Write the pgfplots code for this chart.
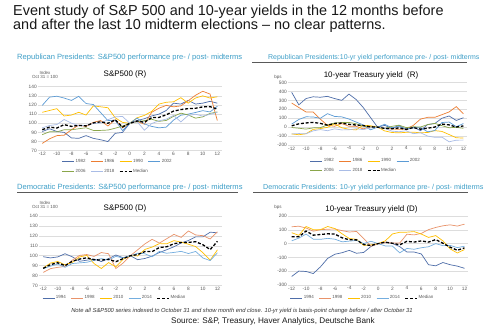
\documentclass[border=0pt]{standalone}
\usepackage{fontspec}
\setmainfont{Liberation Sans}
\usepackage{pgfplots}
\usepackage{pgfplotstable}
\pgfplotsset{compat=1.18}

\definecolor{c82}{HTML}{4F6EA9}
\definecolor{c86}{HTML}{ED7D31}
\definecolor{c90}{HTML}{FFC000}
\definecolor{c02}{HTML}{5B9BD5}
\definecolor{c06}{HTML}{8AA64A}
\definecolor{c18}{HTML}{A9BCE6}
\definecolor{c94}{HTML}{4F6EA9}
\definecolor{c98}{HTML}{E9936A}
\definecolor{c10}{HTML}{FFC000}
\definecolor{c14}{HTML}{74AEDF}
\definecolor{gridc}{HTML}{DDDDDD}
\definecolor{tickc}{HTML}{595959}
\definecolor{titlec}{HTML}{3E9FC8}
\definecolor{linec}{HTML}{595959}

\pgfplotstableread{
x a b c d e f m
-12 91 78 112 119.6 87.6 95 93
-11 94 83 114 128.6 90.7 97.6 95.8
-10 91 86.5 116 129.6 90.6 98.6 94.8
-9 90 87 108 127.6 92.9 104.1 98.5
-8 84 93 109 125 92.9 100.1 96.6
-7 83.5 98 112 129.5 94 97.4 97.7
-6 86.5 96.5 109 121.6 95.1 97.7 97.1
-5 83.5 101 119 120.5 92.2 99.8 100.4
-4 82 103 118 111.7 92.2 100.2 101.6
-3 80 97 117 102.9 92.6 103.9 100
-2 89 104 106 103.4 94.6 107 103.7
-1 90 95 101 92 96.9 107.5 96
0 100 100 100 100 100 100 100
1 103 102 106 105.7 101.6 101.8 102.5
2 105 99 108.6 99.3 102.9 92.4 101.1
3 108 112 113 96.6 104.4 99.7 106.2
4 110 116.5 121 95 102.1 102.7 106.4
5 114 119.6 123 95.8 103.1 104.5 109.3
6 122 118 123.5 103.5 107.6 108.6 113.3
7 121 119 128 108.8 111.1 101.5 115
8 125 124.6 122 110 109.1 108.5 116
9 121 130.6 127.6 111.8 105.6 109.9 116.4
10 122 135 130 113.8 107 107.9 117.9
11 124 132 127.6 112.4 110.8 109.8 118.2
12 122 103 129 118.6 112.4 112 115.5
}\tSR

\pgfplotstableread{
x a b c d e f m
-12 390 270 -76 34 -4 -76 15
-11 250 220 -85 86 -12 -72 37
-10 320 170 -74 116 -22 -74 47
-9 340 170 -25 114 -8 -42 53
-8 335 90 -16 99 -6 -27 42
-7 345 20 -2 151 25 -40 22.5
-6 320 10 37 120 46 -19 41.5
-5 300 40 -7 115 51 -31 45.5
-4 370 10 -24 91 53 -29 31.5
-3 310 10 -31 57 38 -18 24
-2 220 -20 21 25 13 -28 17
-1 110 5 16 -30 3 -9 4
0 0 0 0 0 0 0 0
1 20 -15 -42 32 -15 -13 -14
2 -15 -20 -60 -7 9 -45 -17.5
3 20 -25 -64 7 22 -51 -9
4 -30 -20 -58 -20 -5 -41 -25
5 0 20 -56 -9 4 -73 -4.5
6 -40 90 -63 -5 2 -63 -22.5
7 30 110 -60 -52 28 -100 -12
8 40 110 -39 -38 42 -114 1
9 100 140 -48 52 17 -112 34.5
10 125 170 -83 57 -7 -164 25
11 75 230 -119 5 -2 -146 1.5
12 105 150 -122 40 -13 -145 13.5
}\tYR

\pgfplotstableread{
x a b c d m
-12 99 83.2 87.6 87 87.3
-11 97.8 87 92.6 89.5 91.05
-10 98.8 88.3 94.2 91.6 92.9
-9 102 89.2 90.8 88.3 90
-8 98.9 95.5 93.3 92.1 94.4
-7 94.4 100.3 98.8 92.8 96.6
-6 95.5 101.2 100.3 93.4 97.9
-5 96.6 99.3 92.1 95.3 96
-4 94.1 103.2 87.1 97.1 95.6
-3 97 102 93.1 95.7 96.35
-2 100.7 87.1 88.7 99.3 94
-1 98 92.6 96.4 97.7 97.05
0 100 100 100 100 100
1 96 105.9 99.8 102.5 101.15
2 97.2 111.9 106.3 102 104.15
3 99.6 116.5 108.7 98.9 104.15
4 103.2 112.7 112.2 104.3 108.25
5 106 117.1 112 102.5 109
6 109 121.5 115.2 103.3 112.1
7 112.9 118.5 113.7 104.4 113.3
8 115.3 124.9 111.6 102.2 113.45
9 119 120.9 109.2 104.3 114.1
10 119 120.2 103 97.7 111
11 123.7 116.8 95.6 95.1 106.2
12 123.1 124.1 105.9 103 114.5
}\tSD

\pgfplotstableread{
x a b c d m
-12 -238 122 79 20 49.5
-11 -199 126 60 40 50
-10 -202 113 124 69 91
-9 -217 90 101 32 61
-8 -168 101 101 31 66
-7 -107 104 124 38 71
-6 -77 106 109 32 69
-5 -66 94 71 13 42
-4 -49 84 37 18 27.5
-3 -70 88 31 23 27
-2 -64 37 -13 0 -6.5
-1 -21 -19 -9 17 -14
0 0 0 0 0 0
1 10 10 20 -17 10
2 1 4 70 -18 2.5
3 -22 4 82 -67 -9
4 -61 68 83 -35 16.5
5 -61 63 87 -41 11
6 -75 74 69 -30 19.5
7 -153 101 45 -23 11
8 -161 117 58 0 29
9 -137 129 20 -15 2.5
10 -153 136 -38 -13 -25.5
11 -163 127 -68 -29 -48.5
12 -179 141 -43 -19 -31
}\tYD

\pgfplotsset{
  panel/.style={
    scale only axis, anchor=south west,
    axis line style={draw=none},
    tick style={draw=none},
    major tick length=0pt,
    ymajorgrids, grid style={draw=gridc, line width=0.5pt},
    xtick={-12,-10,...,12},
    /pgf/number format/assume math mode=true,
    tick label style={font=\fontsize{4.8}{5}\selectfont, text=tickc},
    yticklabel style={inner sep=1pt},
    xticklabel style={inner sep=1.5pt},
    every axis plot/.append style={line width=0.7pt, mark=none},
    legend image code/.code={\draw[line width=0.7pt,#1] (0bp,0bp) -- (12bp,0bp);},
    legend cell align=left,
    legend style={draw=none, fill=none, inner sep=0pt, font=\fontsize{4.5}{5}\selectfont, text=tickc, row sep=3bp, /tikz/every even column/.append style={column sep=2bp}, nodes={inner sep=1pt}},
  },
  med/.style={black, line width=1.3pt, dash pattern=on 3pt off 1.8pt},
}
\newcommand{\lgd}[1]{\addlegendentry{\makebox[12bp][l]{#1}}}

\begin{document}
\begin{tikzpicture}
\fill[white] (0,0) rectangle (500bp,-325bp);
\useasboundingbox (0,0) rectangle (500bp,-325bp);

\node[anchor=base west, inner sep=0pt, font=\fontsize{14.5}{14}\selectfont, text=black!90] at (13bp,-15.7bp) {Event study of S\&P 500 and 10-year yields in the 12 months before};
\node[anchor=base west, inner sep=0pt, font=\fontsize{14.5}{14}\selectfont, text=black!90] at (13bp,-29.7bp) {and after the last 10 midterm elections -- no clear patterns.};

% panel titles
\node[anchor=base west, inner sep=0pt, font=\fontsize{7.6}{8}\selectfont, text=titlec] at (17bp,-59.5bp) {Republican Presidents: S\&P500 performance pre- / post- midterms};
\node[anchor=base west, inner sep=0pt, font=\fontsize{7.0}{8}\selectfont, text=titlec] at (268bp,-59.5bp) {Republican Presidents:10-yr yield performance pre- / post- midterms};
\draw[linec, line width=0.8bp] (252bp,-62.5bp) -- (467bp,-62.5bp);
\node[anchor=base west, inner sep=0pt, font=\fontsize{7.6}{8}\selectfont, text=titlec] at (17bp,-189.7bp) {Democratic Presidents: S\&P500 performance pre- / post- midterms};
\draw[linec, line width=0.8bp] (17bp,-192.5bp) -- (238bp,-192.5bp);
\node[anchor=base west, inner sep=0pt, font=\fontsize{7.2}{8}\selectfont, text=titlec] at (263bp,-189bp) {Democratic Presidents: 10-yr yield performance pre- / post- midterms};
\draw[linec, line width=0.8bp] (253bp,-192bp) -- (468bp,-192bp);

% chart titles
\node[anchor=base, inner sep=0pt, font=\fontsize{8}{8}\selectfont] at (125bp,-76.8bp) {S\&P500 (R)};
\node[anchor=base, inner sep=0pt, font=\fontsize{8}{8}\selectfont] at (371bp,-77.5bp) {10-year Treasury yield\ \ (R)};
\node[anchor=base, inner sep=0pt, font=\fontsize{8}{8}\selectfont] at (125bp,-210bp) {S\&P500 (D)};
\node[anchor=base, inner sep=0pt, font=\fontsize{8}{8}\selectfont] at (371.5bp,-211bp) {10-year Treasury yield (D)};

% unit labels
\node[inner sep=0pt, font=\fontsize{4.5}{4.5}\selectfont, text=tickc, align=center] at (45bp,-74.7bp) {Index\\[-0.4bp]Oct 31 = 100};
\node[inner sep=0pt, font=\fontsize{4.5}{4.5}\selectfont, text=tickc] at (278bp,-77bp) {bps};
\node[inner sep=0pt, font=\fontsize{4.5}{4.5}\selectfont, text=tickc, align=center] at (45bp,-205bp) {Index\\[-0.4bp]Oct 31 = 100};
\node[inner sep=0pt, font=\fontsize{4.5}{4.5}\selectfont, text=tickc] at (278bp,-207bp) {bps};

% notes
\node[anchor=base, inner sep=0pt, font=\fontsize{5.84}{6}\selectfont\itshape, text=black!80] at (242bp,-312bp) {Note all S\&P500 series indexed to October 31 and show month end close. 10-yr yield is basis-point change before / after October 31};
\node[anchor=base, inner sep=0pt, font=\fontsize{8.2}{8}\selectfont, text=black!90] at (273bp,-323.5bp) {Source: S\&P, Treasury, Haver Analytics, Deutsche Bank};

% Top-left
\begin{axis}[panel, at={(37.9bp,-150.7bp)}, width=183.8bp, height=64bp,
  xmin=-12.6, xmax=12.6, ymin=70, ymax=140, ytick={70,80,...,140},
  legend columns=4, legend style={at={(0.13,-0.115)}, anchor=north west}]
\addplot[c82] table[x=x,y=a] {\tSR}; \lgd{1982}
\addplot[c86] table[x=x,y=b] {\tSR}; \lgd{1986}
\addplot[c90] table[x=x,y=c] {\tSR}; \lgd{1990}
\addplot[c02] table[x=x,y=d] {\tSR}; \lgd{2002}
\addplot[c06] table[x=x,y=e] {\tSR}; \lgd{2006}
\addplot[c18] table[x=x,y=f] {\tSR}; \lgd{2018}
\addplot[med] table[x=x,y=m] {\tSR}; \lgd{Median}
\end{axis}

% Top-right
\begin{axis}[panel, at={(288.1bp,-145bp)}, width=178.9bp, height=62.5bp,
  xmin=-12.5, xmax=12.5, ymin=-200, ymax=500, ytick={-200,-100,...,500},
  legend columns=4, legend style={at={(0.122,-0.2)}, anchor=north west}]
\addplot[c82] table[x=x,y=a] {\tYR}; \lgd{1982}
\addplot[c86] table[x=x,y=b] {\tYR}; \lgd{1986}
\addplot[c90] table[x=x,y=c] {\tYR}; \lgd{1990}
\addplot[c02] table[x=x,y=d] {\tYR}; \lgd{2002}
\addplot[c06] table[x=x,y=e] {\tYR}; \lgd{2006}
\addplot[c18] table[x=x,y=f] {\tYR}; \lgd{2018}
\addplot[med] table[x=x,y=m] {\tYR}; \lgd{Median}
\end{axis}

% Bottom-left
\begin{axis}[panel, at={(38.9bp,-285.5bp)}, width=182.9bp, height=69.5bp,
  xmin=-12.6, xmax=12.6, ymin=70, ymax=140, ytick={70,80,...,140},
  legend columns=5, legend style={at={(0.017,-0.13)}, anchor=north west}]
\addplot[c94] table[x=x,y=a] {\tSD}; \lgd{1994}
\addplot[c98] table[x=x,y=b] {\tSD}; \lgd{1998}
\addplot[c10] table[x=x,y=c] {\tSD}; \lgd{2010}
\addplot[c14] table[x=x,y=d] {\tSD}; \lgd{2014}
\addplot[med] table[x=x,y=m] {\tSD}; \lgd{Median}
\end{axis}

% Bottom-right
\begin{axis}[panel, at={(288.1bp,-285bp)}, width=180bp, height=69bp,
  xmin=-12.5, xmax=12.5, ymin=-300, ymax=200, ytick={-300,-200,...,200},
  legend columns=5, legend style={at={(0.01,-0.138)}, anchor=north west}]
\addplot[c94] table[x=x,y=a] {\tYD}; \lgd{1994}
\addplot[c98] table[x=x,y=b] {\tYD}; \lgd{1998}
\addplot[c10] table[x=x,y=c] {\tYD}; \lgd{2010}
\addplot[c14] table[x=x,y=d] {\tYD}; \lgd{2014}
\addplot[med] table[x=x,y=m] {\tYD}; \lgd{Median}
\end{axis}
\end{tikzpicture}
\end{document}
